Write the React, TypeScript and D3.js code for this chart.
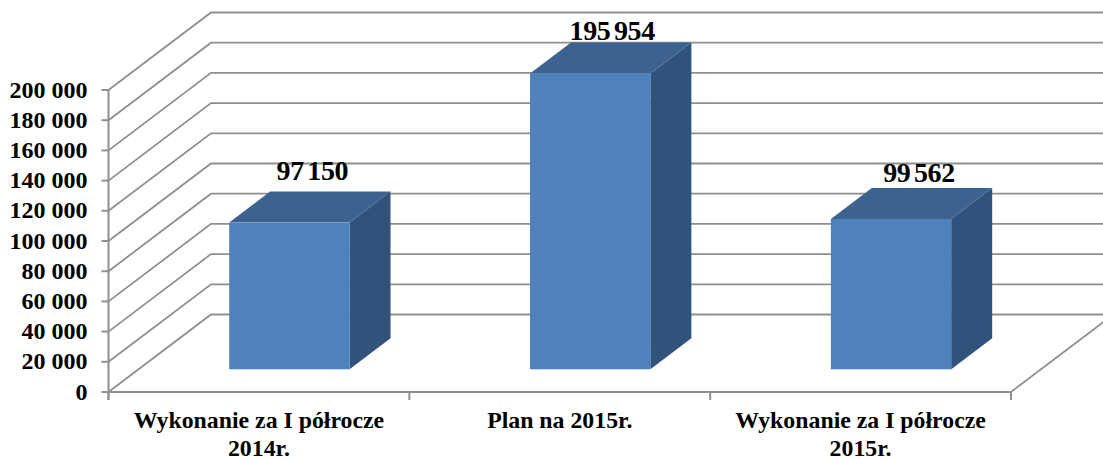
import React, { useEffect, useRef } from "react";
import * as d3 from "d3";

const categories = [
  ["Wykonanie za I półrocze", "2014r."],
  ["Plan na 2015r."],
  ["Wykonanie za I półrocze", "2015r."],
];
const values = [97150, 195954, 99562];
const yTicks = [0, 20000, 40000, 60000, 80000, 100000, 120000, 140000, 160000, 180000, 200000];

// hand placed data labels in the original, so these are nudges from the bar top
const labelNudge = [
  { dx: 23, dy: -42.5 },
  { dx: 22, dy: -33 },
  { dx: 28, dy: -37 },
];

const w = 1103;
const h = 459;
const left = 108.5;
const right = 1011;
const bottom = 392;
const top = 90;
const depthX = 102.5;
const depthY = 77.5;
const serif = "'Liberation Serif', serif";

const App = () => {
  const ref = useRef<SVGSVGElement>(null);

  useEffect(() => {
    const svg = d3.select(ref.current);
    svg.selectAll("*").remove();

    const x = d3.scaleBand<number>().domain(d3.range(categories.length)).range([left, right]);
    const y = d3.scaleLinear().domain([0, 200000]).range([bottom, top]);
    const fmt = d3.formatLocale({ decimal: ",", thousands: " ", grouping: [3], currency: ["", ""] }).format(",");

    const gridColor = "#8f8f8f";
    const grid = svg.append("g").attr("fill", "none").attr("stroke", gridColor).attr("stroke-width", 1.8);

    // walls
    const wall = d3.line();
    yTicks.forEach((t) => {
      grid.append("path").attr("d", wall([
        [left, y(t)],
        [left + depthX, y(t) - depthY],
        [w + 20, y(t) - depthY],
      ]));
    });

    // floor right edge
    grid.append("path").attr("d", wall([
      [right, bottom],
      [right + depthX, bottom - depthY],
    ]));

    // axes
    const axes = svg.append("g").attr("stroke", gridColor).attr("stroke-width", 2).attr("fill", "none");
    axes.append("line").attr("x1", left).attr("x2", left).attr("y1", top).attr("y2", bottom + 8);
    axes.append("line").attr("x1", left).attr("x2", right).attr("y1", bottom).attr("y2", bottom);
    yTicks.forEach((t) => {
      axes.append("line").attr("x1", left - 7).attr("x2", left).attr("y1", y(t)).attr("y2", y(t));
    });
    d3.range(categories.length + 1).forEach((i) => {
      const tx = left + i * x.step();
      axes.append("line").attr("x1", tx).attr("x2", tx).attr("y1", bottom).attr("y2", bottom + 8);
    });

    svg.append("g")
      .selectAll("text")
      .data(yTicks)
      .join("text")
      .attr("x", 87.5)
      .attr("y", (d) => y(d) + 7.5)
      .attr("text-anchor", "end")
      .attr("font-family", serif)
      .attr("font-weight", "bold")
      .attr("font-size", 24)
      .attr("fill", "#000")
      .text((d) => fmt(d));

    // bars
    const barW = x.bandwidth() * 0.4;
    const baseX = depthX * 0.297;
    const baseY = depthY * 0.293;
    const barDX = depthX * 0.4;
    const barDY = depthY * 0.4;
    const floorY = bottom - baseY;

    values.forEach((v, i) => {
      const x0 = x(i)! + x.bandwidth() / 2 - barW / 2 + baseX;
      const x1 = x0 + barW;
      const yTop = y(v) - baseY;
      const g = svg.append("g");

      g.append("polygon")
        .attr("fill", "#31527b")
        .attr("points", [[x1, yTop], [x1 + barDX, yTop - barDY], [x1 + barDX, floorY - barDY], [x1, floorY]].join(" "));
      g.append("polygon")
        .attr("fill", "#3c638f")
        .attr("points", [[x0, yTop], [x0 + barDX, yTop - barDY], [x1 + barDX, yTop - barDY], [x1, yTop]].join(" "));
      g.append("rect")
        .attr("x", x0)
        .attr("y", yTop)
        .attr("width", barW)
        .attr("height", floorY - yTop)
        .attr("fill", "#4f81bd");

      g.append("text")
        .attr("x", (x0 + x1) / 2 + labelNudge[i].dx)
        .attr("y", yTop + labelNudge[i].dy)
        .attr("text-anchor", "middle")
        .attr("font-family", serif)
        .attr("font-weight", "bold")
        .attr("font-size", 28)
        .attr("word-spacing", -3)
        .attr("letter-spacing", -0.4)
        .attr("fill", "#000")
        .text(fmt(v));
    });

    // category labels
    categories.forEach((lines, i) => {
      lines.forEach((line, j) => {
        svg.append("text")
          .attr("x", x(i)! + x.bandwidth() / 2)
          .attr("y", 428 + j * 27.5)
          .attr("text-anchor", "middle")
          .attr("font-family", serif)
          .attr("font-weight", "bold")
          .attr("font-size", 23.8)
          .attr("fill", "#000")
          .text(line);
      });
    });
  }, []);

  return (
    <svg
      ref={ref}
      width={w}
      height={h}
      style={{ position: "absolute", left: 0, top: 0, background: "#fff" }}
    />
  );
};

export default App;
